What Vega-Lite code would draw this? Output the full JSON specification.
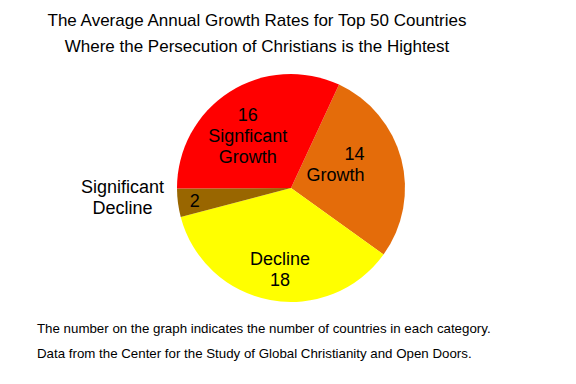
{
  "$schema": "https://vega.github.io/schema/vega-lite/v6.json",
  "background": "white",
  "padding": {"left": 6, "top": 12, "right": 0, "bottom": 0},
  "title": {
    "text": ["The Average Annual Growth Rates for Top 50 Countries", "Where the Persecution of Christians is the Hightest"],
    "font": "Liberation Sans",
    "fontSize": 17,
    "fontWeight": "normal",
    "color": "black",
    "lineHeight": 26,
    "anchor": "middle",
    "dx": -34,
    "offset": 12
  },
  "data": {
    "values": [
      {"cat": "Growth", "n": 14, "label": "14\nGrowth", "name": "", "ord": 1},
      {"cat": "Decline", "n": 18, "label": "Decline\n18", "name": "", "ord": 2},
      {"cat": "Significant Decline", "n": 2, "label": "2", "name": "Significant\nDecline", "ord": 3},
      {"cat": "Significant Growth", "n": 16, "label": "16\nSignficant\nGrowth", "name": "", "ord": 4}
    ]
  },
  "vconcat": [
    {
      "width": 570,
      "height": 240,
      "title": {
        "text": ["The number on the graph indicates the number of countries in each category.", "Data from the Center for the Study of Global Christianity and Open Doors."],
        "orient": "bottom",
        "anchor": "start",
        "font": "Liberation Sans",
        "fontSize": 13.3,
        "fontWeight": "normal",
        "color": "black",
        "lineHeight": 25,
        "dx": 31,
        "offset": 14
      },
      "encoding": {
        "theta": {"field": "n", "type": "quantitative", "stack": true, "scale": {"range": [0.435, 6.7182]}},
        "order": {"field": "ord", "type": "quantitative"}
      },
      "layer": [
        {
          "mark": {"type": "arc", "outerRadius": 114},
          "encoding": {
            "color": {
              "field": "cat",
              "type": "nominal",
              "legend": null,
              "scale": {
                "domain": ["Growth", "Decline", "Significant Decline", "Significant Growth"],
                "range": ["#E46C0A", "#FFFF00", "#996600", "#FF0000"]
              }
            }
          }
        },
        {
          "mark": {"type": "text", "radius": 67, "dx": -7, "dy": -16, "font": "Liberation Sans", "fontSize": 18, "lineHeight": 21, "lineBreak": "\n", "align": "center", "baseline": "middle", "color": "black", "clip": true},
          "encoding": {
            "text": {"condition": {"test": "datum.cat === 'Significant Growth'", "field": "label"}, "value": ""}
          }
        },
        {
          "mark": {"type": "text", "radius": 76, "dx": 0, "dy": -14, "font": "Liberation Sans", "fontSize": 18, "lineHeight": 21, "lineBreak": "\n", "align": "right", "baseline": "middle", "color": "black", "clip": true},
          "encoding": {
            "text": {"condition": {"test": "datum.cat === 'Growth'", "field": "label"}, "value": ""}
          }
        },
        {
          "mark": {"type": "text", "radius": 82, "dx": 4, "dy": -9, "font": "Liberation Sans", "fontSize": 18, "lineHeight": 21, "lineBreak": "\n", "align": "center", "baseline": "middle", "color": "black", "clip": true},
          "encoding": {
            "text": {"condition": {"test": "datum.cat === 'Decline'", "field": "label"}, "value": ""}
          }
        },
        {
          "mark": {"type": "text", "radius": 97, "dx": 0, "dy": 1, "font": "Liberation Sans", "fontSize": 18, "lineHeight": 21, "lineBreak": "\n", "align": "center", "baseline": "middle", "color": "black", "clip": true},
          "encoding": {
            "text": {"condition": {"test": "datum.cat === 'Significant Decline'", "field": "label"}, "value": ""}
          }
        },
        {
          "mark": {"type": "text", "radius": 168, "dx": -2, "dy": -22, "font": "Liberation Sans", "fontSize": 18, "lineHeight": 21, "lineBreak": "\n", "align": "center", "baseline": "middle", "color": "black", "clip": true},
          "encoding": {
            "text": {"field": "name"}
          }
        }
      ]
    }
  ],
  "config": {"view": {"stroke": null}}
}
